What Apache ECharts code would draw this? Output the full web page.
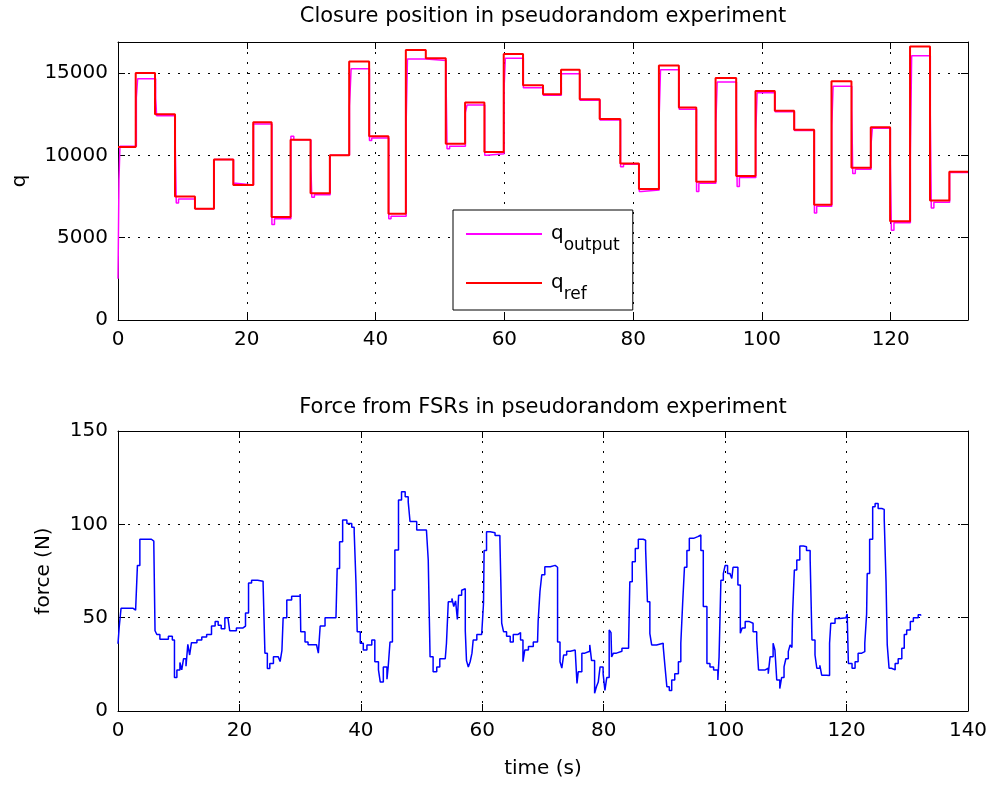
<!DOCTYPE html>
<html>
<head>
<meta charset="utf-8">
<script src="https://cdn.jsdelivr.net/npm/echarts@6/dist/echarts.min.js"></script>
<style>
html,body{margin:0;padding:0;background:#fff;}
#chart{width:993px;height:785px;}
</style>
</head>
<body>
<div id="chart"></div>
<script>
// ---- Top panel: reference position (step changes) ----
const refTime = [0, 2.75, 5.75, 8.85, 11.95, 14.9, 17.9, 21.0, 23.85, 26.8, 29.9, 32.9, 35.9, 39.0, 42.0, 44.7, 47.8, 50.9, 53.9, 56.9, 59.9, 62.9, 66.0, 68.8, 71.7, 74.8, 78.0, 80.9, 84.0, 87.1, 89.8, 92.8, 96.0, 99.0, 102.0, 105.0, 108.1, 110.8, 113.9, 116.9, 119.9, 123.0, 126.1, 129.1, 132];
const refVal = [10500, 15000, 12500, 7500, 6750, 9750, 8200, 12000, 6250, 10950, 7700, 10000, 15700, 11150, 6450, 16400, 15900, 10700, 13200, 10200, 16150, 14250, 13700, 15200, 13400, 12200, 9500, 7950, 15450, 12900, 8400, 14700, 8750, 13900, 12700, 11550, 7000, 14500, 9250, 11700, 6000, 16600, 7250, 9000, 9000];

// ---- Top panel: measured output position ----
const outTime = [0, 0.15, 0.3, 2.85, 3.05, 5.85, 6.0, 8.9, 9.05, 9.4, 12.0, 14.95, 17.95, 18.3, 21.05, 23.9, 24.3, 26.85, 27.3, 29.95, 30.1, 30.5, 32.95, 35.95, 36.2, 39.05, 39.4, 42.05, 42.4, 44.75, 44.95, 47.85, 50.95, 51.1, 51.5, 53.95, 54.2, 56.95, 57.3, 59.95, 60.15, 62.95, 66.05, 68.85, 71.75, 74.85, 78.05, 78.5, 80.95, 81.3, 84.05, 84.25, 87.15, 89.85, 90.2, 92.85, 93.05, 96.05, 96.15, 96.5, 99.05, 99.25, 102.05, 105.05, 108.15, 108.5, 110.85, 111.05, 113.95, 114.1, 114.5, 116.95, 117.15, 119.95, 120.1, 120.5, 123.05, 123.25, 126.15, 126.3, 126.7, 129.15, 132];
const outVal = [2500, 8500, 10550, 13500, 14650, 13500, 12400, 10500, 7100, 7350, 6750, 9750, 8300, 8200, 11900, 5800, 6150, 11150, 10950, 9300, 7450, 7600, 10000, 13000, 15250, 10900, 11050, 6150, 6300, 12000, 15850, 15750, 14400, 10400, 10550, 12600, 13050, 10000, 10100, 14000, 15900, 14100, 13650, 14950, 13350, 12150, 9300, 9450, 7800, 7900, 12500, 15200, 12800, 7800, 8300, 12000, 14450, 12600, 8100, 8650, 11500, 13800, 12650, 11500, 6500, 6900, 11800, 14200, 12800, 8900, 9150, 10700, 11650, 9500, 5450, 5900, 10000, 16050, 12500, 6800, 7150, 8950, 8950];

// ---- Bottom panel: force from FSRs ----
const forceTime = [0, 0.2, 0.5, 2.5, 2.9, 3.2, 3.6, 5.5, 5.9, 6.1, 6.4, 6.9, 8.3, 8.95, 9.3, 9.7, 10.2, 10.5, 10.8, 11.2, 11.5, 11.8, 12.1, 13.0, 13.8, 14.6, 15.4, 16.0, 16.5, 17.0, 17.6, 18.1, 18.4, 19.5, 20.6, 21.0, 21.5, 22.0, 23.0, 23.9, 24.2, 24.6, 25.0, 25.6, 26.4, 26.7, 27.0, 27.2, 27.8, 28.6, 30.0, 30.1, 30.8, 31.3, 32.7, 33.0, 33.3, 34.1, 35.9, 36.1, 36.5, 37.0, 37.7, 38.5, 38.9, 39.2, 39.4, 39.9, 40.4, 41.0, 41.8, 42.3, 42.9, 43.2, 43.7, 44.3, 44.5, 44.8, 45.2, 45.6, 46.2, 46.7, 47.3, 47.8, 48.1, 49.2, 50.8, 51.1, 51.4, 51.9, 52.5, 53.0, 53.9, 54.1, 54.4, 55.0, 55.3, 55.6, 55.9, 56.1, 56.6, 56.9, 57.2, 57.4, 57.7, 58.0, 58.3, 58.5, 59.1, 59.9, 60.2, 60.3, 60.7, 61.3, 62.1, 62.9, 63.2, 63.5, 64.0, 64.6, 65.1, 65.9, 66.3, 66.7, 67.0, 67.6, 68.4, 69.1, 69.2, 69.5, 69.8, 70.3, 71.2, 72.0, 72.4, 72.8, 73.1, 73.4, 73.9, 74.5, 75.3, 75.6, 75.8, 76.4, 76.9, 77.7, 78.0, 78.5, 78.8, 79.1, 79.4, 79.9, 80.2, 80.5, 80.9, 81.2, 81.3, 81.6, 82.1, 83.0, 84.1, 84.3, 84.7, 85.2, 85.7, 86.5, 86.9, 87.2, 87.6, 87.9, 88.7, 89.8, 90.1, 90.4, 90.8, 91.2, 91.7, 92.3, 92.7, 93.0, 93.3, 93.7, 94.1, 94.8, 95.5, 96.0, 96.4, 97.0, 97.5, 98.1, 98.8, 99.0, 99.3, 99.7, 100.0, 100.4, 100.8, 101.1, 101.3, 101.7, 102.1, 102.5, 102.8, 103.3, 103.9, 104.6, 105.2, 105.5, 106.6, 107.1, 107.4, 107.9, 108.2, 108.5, 109.0, 109.3, 109.7, 110.0, 110.4, 110.7, 111.0, 111.1, 111.4, 111.8, 112.3, 112.9, 113.4, 114.0, 114.3, 114.8, 115.1, 115.6, 115.9, 116.7, 117.2, 117.4, 118.1, 118.9, 119.9, 120.1, 120.3, 120.9, 121.4, 121.9, 122.5, 123.0, 123.3, 123.4, 123.8, 124.3, 124.7, 125.2, 125.8, 126.2, 126.5, 126.7, 127.0, 127.4, 128.0, 128.5, 129.1, 129.5, 129.9, 130.5, 131.0, 131.8, 132.2];
const forceVal = [36, 45, 55, 54, 53, 78, 92, 91, 89, 43, 41, 38.5, 40, 38, 18, 22, 26, 22, 28, 24, 35.7, 30, 36.6, 38, 39.6, 41, 45.5, 48, 46, 44, 50, 51, 43, 44.5, 45.5, 52.5, 68.6, 70, 69.5, 68, 31, 22.8, 25.5, 29, 30, 26.5, 32.5, 50, 59.5, 61.5, 62.7, 42.5, 37, 35.5, 36, 31, 45.5, 50, 50, 76.4, 90.7, 102.3, 100.5, 98.4, 96, 68.4, 42.5, 36.3, 32.7, 35.4, 38, 26.4, 22, 15.5, 23.6, 17, 23.6, 37, 64.8, 86.2, 113, 117.5, 114.8, 112, 101.5, 97, 97, 80.9, 29, 21, 23.6, 28, 29, 36.3, 58.5, 60.3, 56, 59, 49, 62, 64.7, 65.5, 43, 27, 23.6, 26.4, 31, 38, 41, 40, 57.6, 86, 96, 95.5, 94, 92, 47, 42.5, 40, 37, 41, 42, 38, 26.4, 32.7, 34.5, 37, 38, 48, 64, 73, 77.3, 78, 77, 37, 26.4, 23, 30, 32, 32.7, 33.6, 14.8, 21, 31, 32, 35.4, 27, 9.5, 13, 15.5, 23.6, 20, 11, 17.9, 43.4, 42, 29, 31, 32, 33.6, 36.3, 69.3, 80, 87, 92, 91.5, 87, 58.5, 41.5, 35.4, 36.3, 34.5, 23.6, 13, 11, 16.6, 20, 26.4, 36.3, 57.6, 77, 86, 92.5, 93.4, 94.3, 86, 56, 25.5, 23.6, 22, 16.6, 29, 70, 73.6, 78, 73.6, 72.7, 71, 77, 77, 67.5, 41.6, 44.5, 48, 47, 42.5, 38, 22, 22.9, 20, 29, 36.3, 32.7, 16.6, 12, 17.9, 23.6, 28, 31.8, 35.4, 34, 51.4, 75.5, 80.9, 88.4, 88, 86, 81.6, 38, 30, 22.9, 24.5, 19.2, 19, 36.3, 47, 49.6, 50, 50.3, 52, 25.5, 22.9, 26.4, 31, 31.8, 36.3, 52, 73.6, 92, 109.4, 111.2, 108.5, 108, 103, 69.3, 35.4, 22.9, 22, 25.5, 28, 33.6, 41, 43.4, 48, 50, 51.6, 51];

// ---- Axis settings ----
const topXMax = 132, topYMax = 16880, botXMax = 140, botYMax = 150;
const xInterval = 20, topYInterval = 5000, botYInterval = 50;
const titles = ['Closure position in pseudorandom experiment', 'Force from FSRs in pseudorandom experiment'];

const FONT = 'DejaVu Sans';
const chart = echarts.init(document.getElementById('chart'), null, {renderer: 'canvas'});

function mainX(grid, max, name) {
  return {
    type: 'value', gridIndex: grid, position: 'bottom', min: 0, max: max, interval: xInterval,
    name: name || '', nameLocation: 'middle', nameGap: 48,
    nameTextStyle: {color: '#000', fontSize: 20, fontFamily: FONT},
    axisLine: {show: true, onZero: false, lineStyle: {color: '#000', width: 1}},
    axisTick: {show: true, inside: true, length: 7, lineStyle: {color: '#000', width: 1}},
    axisLabel: {color: '#000', fontSize: 20, fontFamily: FONT, margin: 10,
      formatter: v => (v % xInterval === 0 ? String(v) : '')},
    splitLine: {show: true, lineStyle: {color: '#000', width: 1, type: [2, 8]}}
  };
}
function mirrorX(grid, max) {
  return {
    type: 'value', gridIndex: grid, position: 'top', min: 0, max: max, interval: xInterval,
    axisLine: {show: true, onZero: false, lineStyle: {color: '#000', width: 1}},
    axisTick: {show: true, inside: true, length: 7, lineStyle: {color: '#000', width: 1}},
    axisLabel: {show: false}, splitLine: {show: false}
  };
}
function mainY(grid, max, interval, name, gap) {
  return {
    type: 'value', gridIndex: grid, position: 'left', min: 0, max: max, interval: interval,
    name: name, nameLocation: 'middle', nameGap: gap,
    nameTextStyle: {color: '#000', fontSize: 20, fontFamily: FONT},
    axisLine: {show: true, onZero: false, lineStyle: {color: '#000', width: 1}},
    axisTick: {show: true, inside: true, length: 7, lineStyle: {color: '#000', width: 1}},
    axisLabel: {color: '#000', fontSize: 20, fontFamily: FONT, margin: 10,
      formatter: v => (v % interval === 0 ? String(v) : '')},
    splitLine: {show: true, lineStyle: {color: '#000', width: 1, type: [2, 8]}}
  };
}
function mirrorY(grid, max, interval) {
  return {
    type: 'value', gridIndex: grid, position: 'right', min: 0, max: max, interval: interval,
    axisLine: {show: true, onZero: false, lineStyle: {color: '#000', width: 1}},
    axisTick: {show: true, inside: true, length: 7, lineStyle: {color: '#000', width: 1}},
    axisLabel: {show: false}, splitLine: {show: false}
  };
}

const zip = (a, b) => a.map((t, i) => [t, b[i]]);

const option = {
  animation: false,
  backgroundColor: '#fff',
  title: [
    {text: titles[0], left: 543, top: 17, textAlign: 'center', textVerticalAlign: 'middle', padding: 0,
     textStyle: {color: '#000', fontSize: 21, fontWeight: 'normal', fontFamily: FONT}},
    {text: titles[1], left: 543, top: 408, textAlign: 'center', textVerticalAlign: 'middle', padding: 0,
     textStyle: {color: '#000', fontSize: 21, fontWeight: 'normal', fontFamily: FONT}}
  ],
  grid: [
    {left: 118, top: 42, width: 850, height: 278, containLabel: false},
    {left: 118, top: 431, width: 850, height: 280, containLabel: false}
  ],
  xAxis: [
    mainX(0, topXMax), mirrorX(0, topXMax),
    mainX(1, botXMax, 'time (s)'), mirrorX(1, botXMax)
  ],
  yAxis: [
    mainY(0, topYMax, topYInterval, 'q', 88), mirrorY(0, topYMax, topYInterval),
    mainY(1, botYMax, botYInterval, 'force (N)', 64), mirrorY(1, botYMax, botYInterval)
  ],
  legend: {
    data: ['q_output', 'q_ref'], orient: 'vertical', left: 453, top: 210,
    icon: 'rect', padding: [14, 13, 7, 13], itemGap: 19, itemWidth: 76, itemHeight: 2,
    backgroundColor: '#fff', borderColor: '#000', borderWidth: 1, borderRadius: 0,
    formatter: name => name === 'q_output' ? '{q|q}{s|output}' : '{q|q}{s|ref}',
    textStyle: {
      color: '#000', fontFamily: FONT,
      rich: {
        q: {fontSize: 20, lineHeight: 40, verticalAlign: 'middle', padding: [0, 0, 0, 4], color: '#000', fontFamily: FONT},
        s: {fontSize: 17, lineHeight: 14, verticalAlign: 'bottom', color: '#000', fontFamily: FONT}
      }
    }
  },
  series: [
    {name: 'q_output', type: 'line', xAxisIndex: 0, yAxisIndex: 0, data: zip(outTime, outVal), step: 'end',
     symbol: 'none', lineStyle: {color: '#ff00ff', width: 1.5}, itemStyle: {color: '#ff00ff'}},
    {name: 'q_ref', type: 'line', xAxisIndex: 0, yAxisIndex: 0, data: zip(refTime, refVal), step: 'end',
     symbol: 'none', lineStyle: {color: '#ff0000', width: 2}, itemStyle: {color: '#ff0000'}},
    {name: 'force', type: 'line', xAxisIndex: 2, yAxisIndex: 2, data: zip(forceTime, forceVal), step: 'end',
     symbol: 'none', lineStyle: {color: '#0000ff', width: 1.5}, itemStyle: {color: '#0000ff'}}
  ]
};
chart.setOption(option);
</script>
</body>
</html>
